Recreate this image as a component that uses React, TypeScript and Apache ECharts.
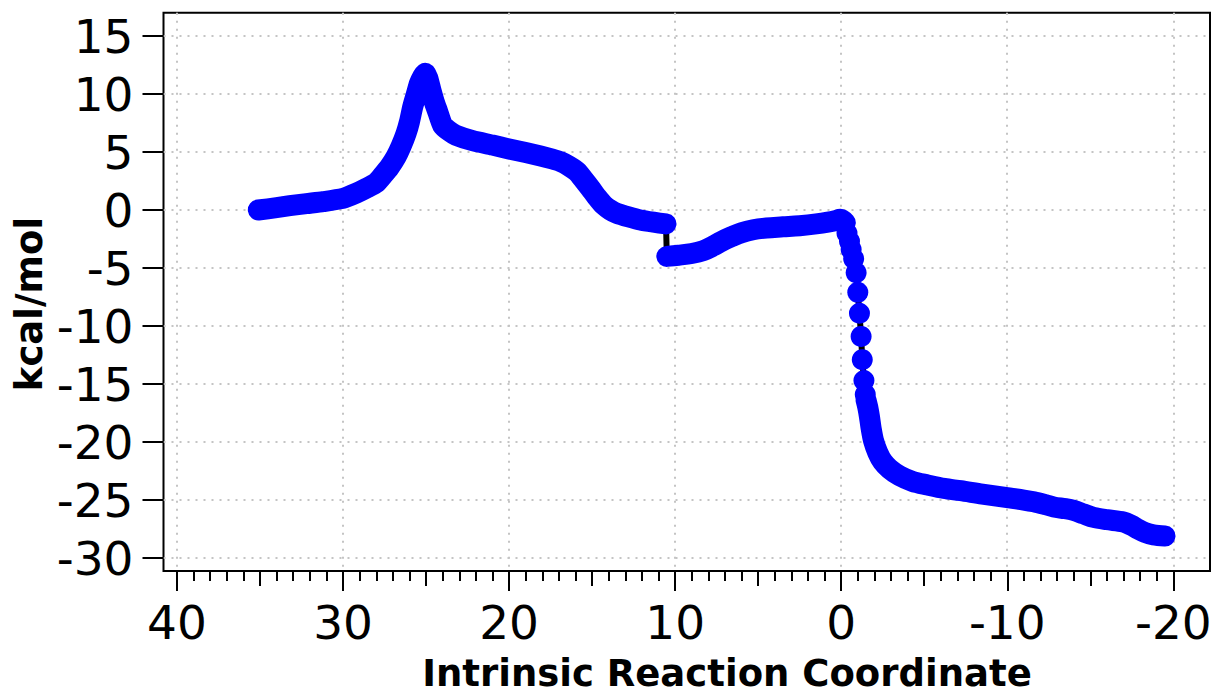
import React, { useEffect, useRef } from "react";
import * as echarts from "echarts";

// Upper branch (IRC 35 -> 10.55)
const segAx = [35.1, 34.0, 33.2, 32.2, 31.2, 30.0, 29.2, 28.6, 28.0, 27.6, 27.2, 26.8, 26.5, 26.2, 26.0, 25.8, 25.6, 25.4, 25.2, 25.05, 24.9, 24.7, 24.5, 24.3, 24.0, 23.6, 23.2, 22.2, 21.0, 20.0, 19.0, 18.1, 17.4, 16.9, 16.4, 15.9, 15.5, 15.1, 14.7, 14.3, 13.9, 13.5, 12.8, 12.1, 11.3, 10.55];
const segAy = [0.0, 0.2, 0.37, 0.55, 0.72, 1.0, 1.45, 1.87, 2.35, 3.0, 3.7, 4.6, 5.5, 6.6, 7.6, 8.9, 9.9, 10.9, 11.5, 11.8, 11.4, 10.3, 9.3, 8.5, 7.3, 6.8, 6.45, 5.98, 5.6, 5.26, 4.95, 4.66, 4.4, 4.17, 3.8, 3.3, 2.6, 1.87, 1.1, 0.43, 0.0, -0.29, -0.6, -0.86, -1.05, -1.2];

// Lower branch (IRC 10.55 -> -0.25)
const segBx = [10.5, 9.8, 9.0, 8.3, 7.7, 7.2, 6.6, 6.0, 5.3, 4.5, 3.5, 2.5, 1.5, 0.8, 0.3, 0.05, -0.25];
const segBy = [-4.0, -3.9, -3.75, -3.5, -3.1, -2.7, -2.3, -1.95, -1.7, -1.55, -1.45, -1.35, -1.2, -1.05, -0.9, -0.8, -1.1];

// Steep drop, individually visible points
const dropX = [-0.35, -0.5, -0.6, -0.75, -0.9, -1.0, -1.1, -1.2, -1.27, -1.37, -1.45];
const dropY = [-2.0, -2.7, -3.4, -4.2, -5.4, -7.1, -8.9, -10.9, -12.9, -14.7, -15.9];

// Product branch (IRC -1.5 -> -19.5)
const segCx = [-1.5, -1.6, -1.7, -1.8, -1.95, -2.2, -2.5, -2.9, -3.5, -4.3, -5.2, -6.2, -7.2, -8.5, -10.0, -11.0, -11.6, -12.3, -12.8, -13.5, -14.0, -14.6, -15.2, -16.0, -17.0, -17.5, -17.8, -18.3, -18.8, -19.5];
const segCy = [-16.4, -17.0, -17.8, -18.8, -19.9, -20.9, -21.7, -22.3, -22.9, -23.4, -23.7, -24.0, -24.2, -24.5, -24.8, -25.0, -25.15, -25.4, -25.6, -25.75, -25.9, -26.2, -26.5, -26.7, -26.9, -27.2, -27.45, -27.8, -28.0, -28.1];

const xTitle = "Intrinsic Reaction Coordinate";
const yTitle = "kcal/mol";

const zip = (xs: number[], ys: number[]) => xs.map((x, i) => [x, ys[i]]);

const FONT = "DejaVu Sans";
const BLUE = "#0000ff";

export default function App() {
  const ref = useRef<HTMLDivElement>(null);
  useEffect(() => {
    if (!ref.current) return;
    const chart = echarts.init(ref.current, undefined, { renderer: "svg" });
    const allPts = [
      ...zip(segAx, segAy),
      ...zip(segBx, segBy),
      ...zip(dropX, dropY),
      ...zip(segCx, segCy),
    ];
    const grid = { color: "#c4c4c4", type: [2, 6] as any, width: 2 };
    const band = (data: number[][], smooth: number) => ({
      type: "line",
      xAxisIndex: 0,
      yAxisIndex: 0,
      data,
      symbol: "none",
      smooth,
      z: 3,
      lineStyle: { color: BLUE, width: 21, cap: "round", join: "round" },
    });
    chart.setOption({
      animation: false,
      backgroundColor: "#fff",
      grid: [
        { left: 163.5, top: 12.7, width: 1046.5, height: 558.3, show: true, borderColor: "#000", borderWidth: 2, backgroundColor: "transparent" },
        { left: 177, top: 36, width: 996.3, height: 522 },
      ],
      xAxis: [
        {
          type: "value", gridIndex: 0, min: -22.21, max: 40.81, inverse: true,
          minInterval: 10, maxInterval: 10,
          axisLine: { show: false, onZero: false }, axisTick: { show: false }, axisLabel: { show: false },
          splitLine: { show: true, showMinLine: false, showMaxLine: false, lineStyle: grid },
        },
        {
          type: "value", gridIndex: 1, min: -20, max: 40, interval: 10, inverse: true,
          position: "bottom", offset: 13,
          axisLine: { show: false, onZero: false },
          axisTick: { show: true, length: 20, lineStyle: { color: "#000", width: 2 } },
          minorTick: { show: true, splitNumber: 10, length: 10, lineStyle: { color: "#000", width: 2 } },
          axisLabel: { show: true, fontSize: 47, color: "#000", fontFamily: FONT, margin: 28 },
          splitLine: { show: false },
        },
        {
          type: "value", gridIndex: 1, min: -20, max: 40, interval: 5, inverse: true,
          position: "bottom", offset: 13,
          axisLine: { show: false, onZero: false },
          axisTick: { show: true, length: 15, lineStyle: { color: "#000", width: 2 } },
          axisLabel: { show: false },
          splitLine: { show: false },
        },
      ],
      yAxis: [
        {
          type: "value", gridIndex: 0, min: -31.12, max: 17.01,
          minInterval: 5, maxInterval: 5,
          axisLine: { show: false, onZero: false }, axisTick: { show: false }, axisLabel: { show: false },
          splitLine: { show: true, showMinLine: false, showMaxLine: false, lineStyle: grid },
        },
        {
          type: "value", gridIndex: 1, min: -30, max: 15, interval: 5,
          position: "left", offset: 13.5,
          axisLine: { show: false, onZero: false },
          axisTick: { show: true, length: 21, lineStyle: { color: "#000", width: 2 } },
          axisLabel: { show: true, fontSize: 47, color: "#000", fontFamily: FONT, margin: 30 },
          splitLine: { show: false },
        },
      ],
      series: [
        {
          type: "line", xAxisIndex: 0, yAxisIndex: 0, data: allPts, symbol: "none", z: 2,
          lineStyle: { color: "#000", width: 6 },
        },
        band(zip(segAx, segAy), 0.2),
        band(zip(segBx, segBy), 0.35),
        band(zip(segCx, segCy), 0.3),
        {
          type: "scatter", xAxisIndex: 0, yAxisIndex: 0, data: zip(dropX, dropY),
          symbol: "circle", symbolSize: 21, z: 4,
          itemStyle: { color: BLUE, opacity: 1 },
        },
      ],
      graphic: [
        {
          type: "text", x: 727, y: 673,
          style: { text: xTitle, font: `bold 37px "${FONT}"`, fill: "#000", textAlign: "center", textVerticalAlign: "middle" },
        },
        {
          type: "text", x: 29, y: 304, rotation: Math.PI / 2,
          style: { text: yTitle, font: `bold 37px "${FONT}"`, fill: "#000", textAlign: "center", textVerticalAlign: "middle" },
        },
      ],
    });
    return () => chart.dispose();
  }, []);
  return <div ref={ref} style={{ position: "fixed", left: 0, top: 0, width: 1218, height: 693 }} />;
}
